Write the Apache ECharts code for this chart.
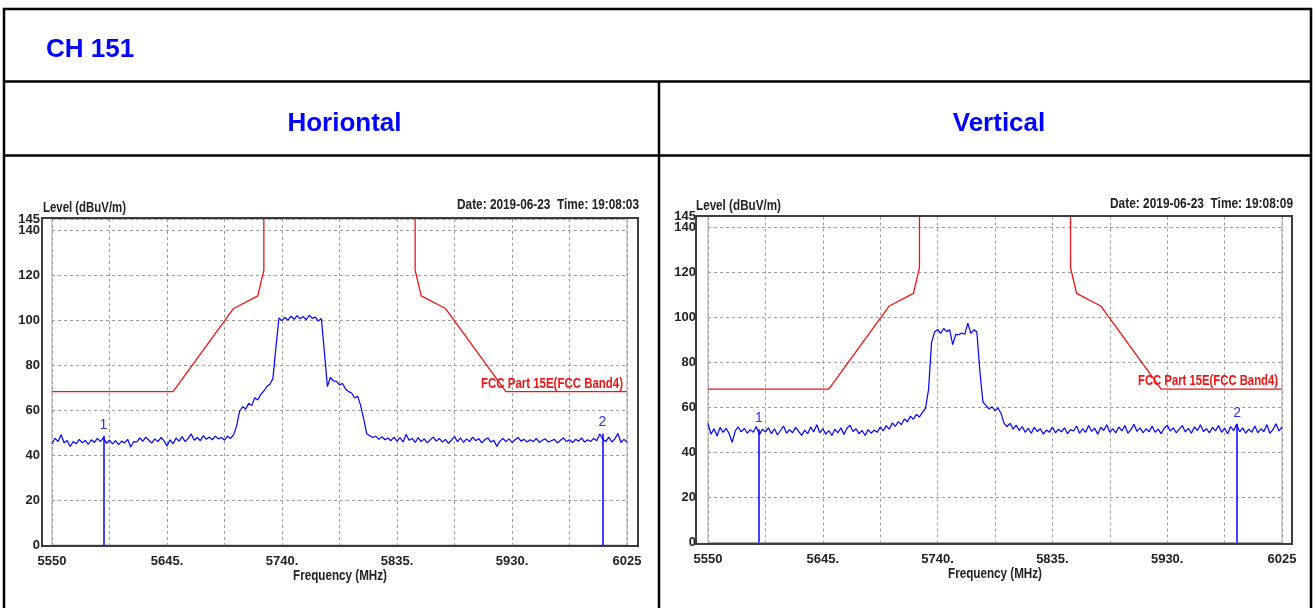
<!DOCTYPE html>
<html>
<head>
<meta charset="utf-8">
<script src="https://cdn.jsdelivr.net/npm/echarts@6/dist/echarts.min.js"></script>
<style>
html,body{margin:0;padding:0;background:#fff;}
#c{width:1316px;height:608px;}
</style>
</head>
<body>
<div id="c"></div>
<script>
// ---- data ----
const SWEEP_START = 5550;
const SWEEP_STOP = 6025;
const SWEEP_STEP = 2.5;
const GRID_STEP = 47.5;
const xTickLabels = ['5550','','5645.','','5740.','','5835.','','5930.','','6025'];
const yTopLabel = 145;

const levelH = [
45.0,47.5,46.0,49.0,45.5,46.5,43.8,46.0,45.0,47.0,
45.5,46.5,44.8,46.8,45.6,47.4,46.0,47.8,45.2,46.6,
45.0,46.4,44.6,46.2,45.4,47.0,43.6,46.0,45.8,47.6,
46.2,48.0,46.6,45.4,47.2,46.0,47.8,46.4,44.0,46.8,
45.0,47.6,46.2,48.2,46.0,47.4,49.4,46.6,47.8,46.4,
48.6,47.0,48.0,46.8,48.4,47.2,47.8,46.6,48.4,47.4,
49.0,53.0,59.5,61.5,60.5,63.0,62.0,65.5,64.5,67.0,
68.5,70.5,71.5,74.0,88.0,101.0,99.8,101.2,100.0,101.8,
100.4,102.0,100.6,101.6,100.2,102.2,100.8,101.4,99.6,100.8,
86.0,70.5,74.5,73.0,72.8,71.2,71.8,69.4,68.2,67.6,
65.4,66.2,62.0,56.0,49.5,48.6,47.8,48.4,47.0,48.2,
46.8,47.6,46.4,48.0,46.2,47.8,45.8,49.2,46.6,47.4,
45.6,47.8,46.0,47.2,45.4,46.8,48.0,46.2,47.4,45.8,
47.0,45.2,46.6,48.2,46.0,47.6,45.6,47.2,46.0,48.0,
46.4,47.4,45.4,46.8,47.6,45.8,46.6,43.8,46.2,47.4,
46.0,47.2,45.6,46.8,47.8,46.2,47.0,45.8,46.8,46.0,
47.4,45.6,46.6,47.2,45.8,46.4,47.0,45.4,46.6,47.6,
46.0,46.8,45.6,47.0,46.2,47.6,45.8,46.8,46.0,47.4,
46.4,49.4,47.0,46.0,48.0,45.8,47.2,49.6,45.6,47.0,
45.8
];

const levelV = [
53.0,48.2,50.6,47.4,51.2,49.0,50.8,48.4,44.6,49.6,
51.4,49.2,50.8,48.6,50.2,49.0,51.6,48.0,50.4,49.2,
51.0,48.4,50.6,47.8,49.8,51.8,48.6,50.2,48.8,51.2,
49.4,47.6,50.0,48.4,51.4,49.2,52.4,48.8,50.6,48.2,
49.8,47.6,50.4,48.8,51.0,48.0,50.8,52.2,49.4,50.6,
48.4,49.8,47.6,50.2,48.6,50.0,49.0,51.4,49.6,52.0,
50.4,53.2,51.6,53.8,52.4,55.0,53.6,56.2,54.8,57.0,
55.8,58.0,59.6,68.0,89.0,93.6,94.8,93.0,95.2,93.8,
94.6,88.0,92.6,92.4,93.2,92.6,97.6,93.0,94.6,93.6,
76.0,62.5,61.0,59.4,60.4,58.6,59.8,57.4,53.0,51.6,
53.0,50.4,52.2,49.8,51.6,49.0,50.8,48.6,51.2,49.4,
50.6,48.2,50.0,49.0,51.4,48.8,50.4,49.2,51.0,48.4,
50.2,49.6,51.8,48.6,50.6,49.0,52.0,49.4,50.8,48.2,
51.2,49.8,52.4,49.0,50.6,48.8,51.4,49.6,52.0,48.6,
50.2,52.6,49.4,51.0,48.8,50.6,49.2,51.8,49.0,50.4,
48.4,50.8,52.2,49.6,51.0,48.8,50.4,52.0,49.2,50.8,
48.6,51.4,49.8,52.4,49.4,50.6,48.8,51.2,49.6,52.0,
49.0,50.8,48.4,51.6,49.8,52.6,49.2,51.0,48.6,50.4,
49.0,51.8,48.8,50.6,49.4,52.4,48.6,50.2,52.8,49.6,
51.4
];

// FCC Part 15E band-4 mask (160 = off-scale, clipped)
const maskFreq  = [5550, 5650, 5700, 5720, 5725, 5725, 5850, 5850, 5855, 5875, 5925, 6025];
const maskLevel = [68.2, 68.2, 105.2, 110.8, 122.2, 160, 160, 122.2, 110.8, 105.2, 68.2, 68.2];
const maskName = 'FCC Part 15E(FCC Band4)';

const markerNames = ['1', '2'];
const markerFreqH = [5592.4, 6004.6];
const markerLevelH = [48.6, 49.6];
const markerFreqV = [5592.2, 5987.8];
const markerLevelV = [50.4, 52.8];

const headerTitle = 'CH 151';
const colTitles = ['Horiontal', 'Vertical'];
const yName = 'Level (dBuV/m)';
const xName = 'Frequency (MHz)';
const dateTexts = ['Date: 2019-06-23  Time: 19:08:03', 'Date: 2019-06-23  Time: 19:08:09'];

// ---- styling ----
const ARIAL = "'Liberation Sans',Arial,Helvetica,sans-serif";
const BLUE = '#0000ff';
const RED = '#f01414';
const TXT = '#222';

const grids = [
  {left: 52, top: 219, width: 575, height: 326},
  {left: 708, top: 216.5, width: 574, height: 326}
];
const frames = [
  {x: 42, y: 218, w: 596, h: 328},
  {x: 696, y: 216, w: 596, h: 328}
];
// text boxes per chart: [x, y, targetWidth]
const yNameBox = [[43, 208.5, 83], [696, 206.5, 85]];
const dateBox = [[639, 205, 182], [1293, 204, 183]];
const xNameBox = [[340, 576, 94], [995, 574, 94]];
const maskLabelW = [142, 140];

const ctx = document.createElement('canvas').getContext('2d');
function fitText(x, y, text, font, fill, align, targetW) {
  ctx.font = font;
  const w = ctx.measureText(text).width || targetW;
  return {type: 'text', x, y, scaleX: targetW / w, z: 10,
    style: {text, font, fill, align, verticalAlign: 'middle'}};
}

function xAxisOf(i) {
  return {
    type: 'value', gridIndex: i, min: 0, max: SWEEP_STOP - SWEEP_START, interval: GRID_STEP,
    axisLine: {show: false}, axisTick: {show: false},
    axisLabel: {
      margin: 10, color: TXT, fontFamily: ARIAL, fontWeight: 'bold', fontSize: 13,
      formatter: v => xTickLabels[Math.round(v / GRID_STEP)] || ''
    },
    splitLine: {show: true, lineStyle: {color: '#9c9c9c', type: [3, 3], width: 1}}
  };
}
function yAxisOf(i) {
  return {
    type: 'value', gridIndex: i, position: 'left', min: 0, max: yTopLabel, interval: 20,
    axisLine: {show: false}, axisTick: {show: false},
    axisLabel: {margin: 12, color: TXT, fontFamily: ARIAL, fontWeight: 'bold', fontSize: 13},
    splitLine: {show: true, lineStyle: {color: '#9c9c9c', type: [3, 3], width: 1}}
  };
}
function yTopAxisOf(i) {
  return {
    type: 'value', gridIndex: i, position: 'left', offset: 0, min: 0, max: yTopLabel, interval: yTopLabel,
    axisLine: {show: false}, axisTick: {show: false}, splitLine: {show: false},
    axisLabel: {margin: 12, color: TXT, fontFamily: ARIAL, fontWeight: 'bold', fontSize: 13,
      formatter: v => (v === yTopLabel ? String(yTopLabel) : '')}
  };
}
function traceData(levels) {
  return levels.map((v, i) => [i * SWEEP_STEP, v]);
}
function maskData() {
  return maskFreq.map((f, i) => [f - SWEEP_START, maskLevel[i]]);
}
function markerLines(freqs, levels) {
  return freqs.map((f, i) => [
    {coord: [f - SWEEP_START, 0], name: markerNames[i]},
    {coord: [f - SWEEP_START, levels[i]]}
  ]);
}

const series = [];
[[levelH, markerFreqH, markerLevelH], [levelV, markerFreqV, markerLevelV]].forEach((d, gi) => {
  series.push({
    type: 'line', xAxisIndex: gi, yAxisIndex: gi, data: maskData(),
    showSymbol: false, z: 3, clip: true,
    lineStyle: {color: RED, width: 1.3}, itemStyle: {color: RED}, animation: false, silent: true
  });
  series.push({
    type: 'line', xAxisIndex: gi, yAxisIndex: gi, data: traceData(d[0]),
    showSymbol: false, z: 4, sampling: null,
    lineStyle: {color: BLUE, width: 1.2}, animation: false, silent: true,
    markLine: {
      symbol: ['none', 'none'], silent: true, animation: false, precision: 2,
      lineStyle: {color: BLUE, type: 'solid', width: 1.5},
      label: {show: true, position: 'end', distance: 4, formatter: p => markerNames[p.dataIndex],
        color: '#3030ff', fontFamily: ARIAL, fontSize: 14},
      data: markerLines(d[1], d[2])
    }
  });
});

const graphic = [];
const tl = (x1, y1, x2, y2) => ({type: 'line', shape: {x1, y1, x2, y2}, style: {stroke: '#000', lineWidth: 2.5}, z: 10});
graphic.push(tl(3, 9, 1312, 9));
graphic.push(tl(4, 8, 4, 620));
graphic.push(tl(1311, 8, 1311, 620));
graphic.push(tl(3, 81.5, 1312, 81.5));
graphic.push(tl(3, 155.5, 1312, 155.5));
graphic.push(tl(659, 81.5, 659, 620));
const txt = (x, y, text, font, fill, align) => ({type: 'text', x, y, z: 10,
  style: {text, font, fill, align: align || 'left', verticalAlign: 'middle'}});
graphic.push(txt(46, 50, headerTitle, "bold 26px " + ARIAL, BLUE));
graphic.push(txt(344.5, 124, colTitles[0], "bold 26px " + ARIAL, BLUE, 'center'));
graphic.push(txt(999, 124, colTitles[1], "bold 26px " + ARIAL, BLUE, 'center'));
frames.forEach(f => {
  graphic.push({type: 'rect', shape: {x: f.x, y: f.y, width: f.w, height: f.h}, z: 5,
    style: {fill: null, stroke: '#3c3c3c', lineWidth: 2}});
});
[0, 1].forEach(i => {
  graphic.push(fitText(yNameBox[i][0], yNameBox[i][1], yName, "bold 14px " + ARIAL, TXT, 'left', yNameBox[i][2]));
  graphic.push(fitText(dateBox[i][0], dateBox[i][1], dateTexts[i], "bold 14px " + ARIAL, TXT, 'right', dateBox[i][2]));
  graphic.push(fitText(xNameBox[i][0], xNameBox[i][1], xName, "bold 14px " + ARIAL, TXT, 'center', xNameBox[i][2]));
});

const chart = echarts.init(document.getElementById('c'), null, {renderer: 'canvas'});
chart.setOption({
  backgroundColor: '#fff',
  animation: false,
  grid: grids.map(g => Object.assign({show: true, borderColor: '#a8a8a8', borderWidth: 1, backgroundColor: 'transparent'}, g)),
  xAxis: [xAxisOf(0), xAxisOf(1)],
  yAxis: [yAxisOf(0), yAxisOf(1), yTopAxisOf(0), yTopAxisOf(1)],
  series,
  graphic
});

// mask label anchored to the last mask point via the chart's own scales
const last = maskFreq.length - 1;
[0, 1].forEach(gi => {
  const p = chart.convertToPixel({gridIndex: gi}, [maskFreq[last] - SWEEP_START, maskLevel[last]]);
  graphic.push(fitText(p[0] - 4, p[1] - 8, maskName, "bold 15px " + ARIAL, RED, 'right', maskLabelW[gi]));
});
chart.setOption({graphic});
</script>
</body>
</html>
